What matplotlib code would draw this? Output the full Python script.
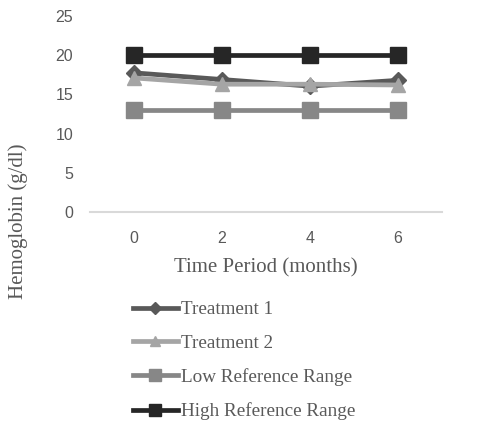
import matplotlib.pyplot as plt
from matplotlib.lines import Line2D

# data
months = [0, 2, 4, 6]
treatment1 = [17.75, 16.9, 16.05, 16.8]
treatment2 = [17.1, 16.3, 16.3, 16.2]
low_ref = [13, 13, 13, 13]
high_ref = [20, 20, 20, 20]
y_ticks = [0, 5, 10, 15, 20, 25]

SERIF = 'Liberation Serif'
SANS = 'Liberation Sans'
TXT = '#595959'

W, H = 483, 429
fig = plt.figure(figsize=(W / 100, H / 100), dpi=100)
# axes: x 90..442, y 16..212 (pixels)
ax = fig.add_axes([90 / W, 1 - 212 / H, (442 - 90) / W, (212 - 16) / H])

series = [
    ('Treatment 1', treatment1, '#595959', 'D', 8),
    ('Treatment 2', treatment2, '#A5A5A5', '^', 10),
    ('Low Reference Range', low_ref, '#878787', 's', 11),
    ('High Reference Range', high_ref, '#262626', 's', 11),
]

pos = list(range(len(months)))
for name, vals, col, mk, ms in series:
    ax.plot(pos, vals, color=col, lw=3.4, marker=mk, markersize=ms,
            markeredgecolor=col, markerfacecolor=col, label=name,
            solid_joinstyle='miter')

ax.set_xlim(-0.5, 3.5)
ax.set_ylim(0, 25)
ax.set_yticks(y_ticks)
ax.set_xticks(pos)
ax.set_xticklabels([str(m) for m in months])
for s in ['top', 'right', 'left']:
    ax.spines[s].set_visible(False)
ax.spines['bottom'].set_color('#D9D9D9')
ax.spines['bottom'].set_linewidth(1.5)
ax.tick_params(axis='both', length=0, labelcolor=TXT, labelsize=11.5)
ax.tick_params(axis='y', pad=12)
ax.tick_params(axis='x', pad=14)
for lbl in ax.get_xticklabels() + ax.get_yticklabels():
    lbl.set_family(SANS)

fig.text(266 / W, 1 - 268 / H, 'Time Period (months)', ha='center', va='center',
         family=SERIF, fontsize=15, color=TXT)
fig.text(18 / W, 1 - 221 / H, 'Hemoglobin (g/dl)', ha='center', va='center',
         rotation=90, family=SERIF, fontsize=15, color=TXT)

# legend drawn below the plot, one entry per row
handles = [Line2D([0], [0], color=c, lw=3.4, marker=m, markersize=ms * 0.75,
                  markerfacecolor=c, markeredgecolor=c)
           for _, _, c, m, ms in series]
leg = fig.legend(handles, [s[0] for s in series], loc='upper left',
                 bbox_to_anchor=(133 / W, 1 - 301 / H), frameon=False,
                 borderpad=0, borderaxespad=0,
                 handlelength=2.35, handletextpad=0.15, labelspacing=0.85,
                 prop={'family': SERIF, 'size': 13.75})
for t in leg.get_texts():
    t.set_color(TXT)

fig.savefig('out.png', dpi=100)
